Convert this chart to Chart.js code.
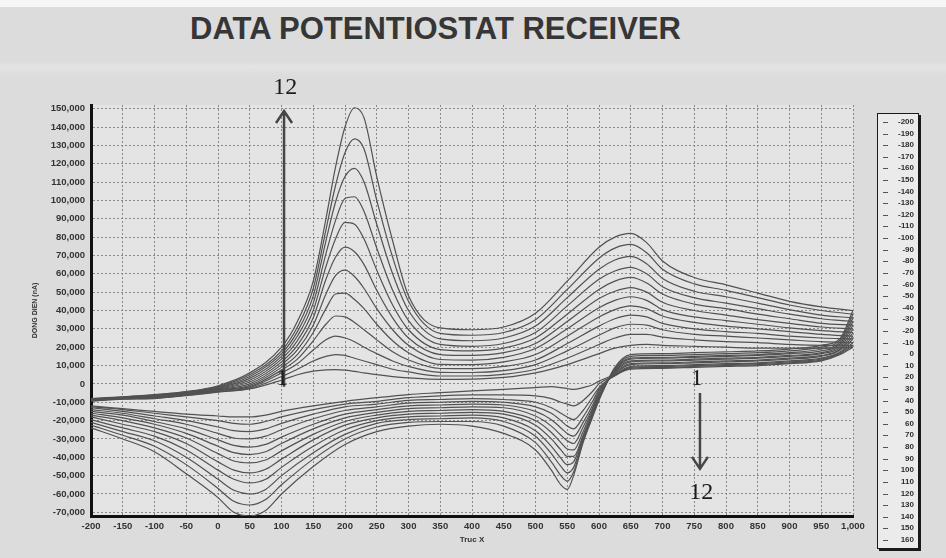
<!DOCTYPE html>
<html>
<head>
<meta charset="utf-8">
<script src="https://cdn.jsdelivr.net/npm/chart.js@4.4.0/dist/chart.umd.min.js"></script>
<style>
  html, body { margin: 0; padding: 0; }
  body {
    width: 946px; height: 558px; position: relative; overflow: hidden;
    background: linear-gradient(#f6f6f6 0, #f6f6f6 7px, #dcdcdc 7px, #dcdcdc 62px, #e4e4e4 66px, #dcdcdc 76px, #dcdcdc 100%);
    font-family: "Liberation Sans", Arial, sans-serif;
  }
  #chart { position: absolute; left: 0; top: 0; }
  #title {
    position: absolute; left: 0; top: 13px; width: 871px; text-align: center;
    font: bold 31px/31px "Liberation Sans", Arial, sans-serif; color: #363636;
  }
  #legend {
    position: absolute; left: 877px; top: 113px; width: 42px; height: 436px;
    background: #ebebeb; border: 1px solid #1a1a1a; box-shadow: 2px 2px 0 #1a1a1a;
    padding-top: 2px; box-sizing: border-box; overflow: hidden;
  }
  #legend div {
    height: 11.62px; font: bold 8px/11.62px "Liberation Sans", Arial, sans-serif;
    color: #2e2e2e; text-align: right; padding-right: 4px; position: relative;
  }
  #legend div span {
    position: absolute; left: 5px; top: 6px; width: 5px; border-top: 1px solid #555;
  }
</style>
</head>
<body>
<div id="title">DATA POTENTIOSTAT RECEIVER</div>
<canvas id="chart" width="946" height="558"></canvas>
<div id="legend"></div>
<script>
// potential (x axis) for the forward and the reverse scan
const fwdX = [-200, -150, -100, -50, 0, 50, 100, 125, 150, 170, 185, 200, 215, 230, 250, 275, 300, 350, 400, 450, 500, 550, 600, 625, 650, 675, 700, 750, 800, 850, 900, 950, 1000];
const revX = [-200, -150, -100, -50, 0, 25, 50, 75, 100, 150, 200, 250, 300, 350, 400, 450, 500, 525, 540, 550, 560, 575, 590, 600, 625, 650, 700, 750, 800, 850, 900, 950, 980, 1000];

// current, thousands of nA, forward scan (cycle 1 .. 12)
const fwd1 = [-9.3, -8.3, -8, -6.4, -4.5, -2.8, 2, 5, 7, 7.6, 7.8, 7.5, 6.8, 6, 5, 4, 3.3, 2.5, 2.6, 3.5, 6, 10.5, 16.5, 19.5, 21, 21.5, 21, 20.5, 20, 19.5, 19.5, 19.5, 20];
const fwd2 = [-9.2, -8.2, -7.8, -6.2, -4.2, -2.5, 4, 8, 12.5, 15, 16, 15.5, 14, 12.5, 10.5, 8, 6.5, 4.3, 4.3, 5.2, 8, 14, 21.5, 25, 27, 27, 25.5, 24, 23, 22.5, 21.5, 21, 21];
const fwd3 = [-9.1, -8.1, -7.6, -6, -3.9, -2, 6, 11, 18.5, 24, 26, 25, 23, 20, 16.5, 12.5, 9.5, 6.3, 6.2, 7.2, 10.5, 18, 26.5, 30.5, 32.5, 32, 29.5, 27, 26, 25, 24, 23, 22.5];
const fwd4 = [-9, -8, -7.4, -5.8, -3.6, -1.5, 7.5, 13.5, 23.5, 32.5, 37, 36.5, 33.5, 29.5, 24, 17.5, 13, 8.4, 8.3, 9.5, 13, 22, 31.5, 35.5, 37.5, 36.5, 33, 30, 28.5, 27.5, 26, 25, 24.5];
const fwd5 = [-8.9, -7.9, -7.2, -5.6, -3.3, -0.8, 9, 16, 28, 41, 49, 49.5, 46, 41, 32.5, 23.5, 17, 10.6, 10.5, 12, 16, 26, 36.5, 40.5, 42.5, 41, 37, 33.5, 31.5, 30, 28.5, 27, 26];
const fwd6 = [-8.8, -7.8, -7, -5.4, -3, 0, 10.5, 18.5, 32, 49, 59, 62, 58.5, 52, 41, 29.5, 21, 13.3, 13, 14.5, 19.3, 30, 41.5, 45.5, 47.5, 45.5, 40.5, 36.5, 34.5, 32.5, 30.5, 29, 28];
const fwd7 = [-8.7, -7.7, -6.8, -5.2, -2.7, 1, 12, 21, 36, 57, 69, 74.5, 72, 65, 51, 36, 25, 16, 15.5, 17, 22, 34, 46.5, 50.5, 52.5, 50, 44.5, 40, 37.5, 35, 33, 31, 30];
const fwd8 = [-8.6, -7.6, -6.6, -5, -2.4, 2, 13.5, 23.5, 40, 64, 79, 88, 87, 79, 62, 43, 29.5, 18.7, 18, 19.5, 25, 38, 51.5, 56, 58, 55, 49, 43.5, 41, 38, 35.5, 33, 32];
const fwd9 = [-8.5, -7.5, -6.4, -4.8, -2.1, 3, 15, 26, 44, 71, 89, 101, 102, 94, 74, 51, 34.5, 21.5, 20.5, 22, 28, 42.5, 57, 61.5, 63.5, 60, 53, 47, 44, 41, 38, 35.5, 34];
const fwd10 = [-8.4, -7.4, -6.2, -4.6, -1.8, 4, 16.5, 28.5, 48, 78, 99, 113, 117.5, 110, 87, 60, 40, 24.5, 23.5, 25, 31.5, 47, 62.5, 67.5, 69.5, 65.5, 57.5, 50.5, 47.5, 44, 40.5, 37.5, 36];
const fwd11 = [-8.2, -7.2, -6, -4.4, -1.4, 5, 18, 31, 52, 84, 108, 126, 133.5, 128, 100, 69, 45, 27.5, 26.5, 28, 35, 51.5, 68.5, 74, 76, 71.5, 62.5, 54.5, 51, 47, 43, 40, 38];
const fwd12 = [-8, -7, -5.8, -4.2, -1, 6, 20, 34, 56, 90, 118, 140, 150.5, 145, 113, 78, 48, 30.5, 29.5, 31, 38.5, 56, 74.5, 80, 82, 77, 67, 58, 54, 49.5, 45, 42, 40];

// current, thousands of nA, reverse scan (cycle 1 .. 12)
const rev1 = [-12, -13.5, -15, -16.5, -17.5, -18, -18, -17, -15, -12, -9.5, -7.5, -5.8, -4.8, -3.8, -3, -2, -1.5, -2, -2.5, -3, -2, -0.5, 1.5, 5, 8, 8.5, 9, 9.5, 10, 11, 12.5, 16, 20];
const rev2 = [-12.5, -14, -16, -18, -20, -21.5, -22, -20.5, -18, -14, -11, -9.5, -7.5, -6.5, -6, -6, -6.5, -8, -10, -11, -12, -9, -4, 0, 4.5, 8.5, 9, 9.5, 10, 10.5, 11.5, 13, 16.5, 21];
const rev3 = [-13, -15, -17.5, -20, -23.5, -25.5, -26, -24.5, -21.5, -16.5, -12.5, -11, -9, -8.5, -8, -8.5, -10, -13, -16, -18, -19.5, -14.5, -7, -2, 4.5, 9, 9.5, 10, 10.5, 11, 12, 13.5, 17, 22.5];
const rev4 = [-14, -16, -19, -22, -27, -29.5, -30, -28.5, -25, -19, -14.5, -12.5, -10.5, -10, -9.5, -10, -12.5, -16, -20, -23, -24.5, -18, -9.5, -3, 5, 9.5, 10, 10.5, 11, 11.5, 12.5, 14, 17.5, 24.5];
const rev5 = [-15, -17, -20.5, -24.5, -30.5, -33.5, -34.5, -33, -29, -22, -16.5, -14, -12, -11.5, -11, -11.5, -15, -19.5, -24, -27, -28.5, -21, -11.5, -4, 5.5, 10.5, 11, 11.5, 12, 12.5, 13.5, 15, 18.5, 26];
const rev6 = [-16, -18.5, -22, -27, -34, -37.5, -38.5, -37, -32.5, -24.5, -18.5, -15.5, -13.5, -13, -12.5, -13, -17.5, -23, -28, -31, -32.5, -23.5, -13, -5, 6, 11, 11.5, 12, 12.5, 13, 14, 15.5, 19, 28];
const rev7 = [-17, -20, -24, -29.5, -38, -42, -43, -41.5, -36.5, -27.5, -20.5, -17, -15, -14.5, -14, -15, -20, -26.5, -32, -35.5, -36, -26, -14, -6, 6.5, 12, 12.5, 13, 13.5, 14, 15, 16.5, 20, 30];
const rev8 = [-18, -22, -26, -32.5, -42.5, -47, -48.5, -46.5, -41, -30.5, -22.5, -18.5, -16.5, -16, -15.5, -16.5, -22.5, -30, -36, -39.5, -39.5, -28, -15, -7, 7, 12.5, 13, 13.5, 14, 14.5, 15.5, 17, 21, 32];
const rev9 = [-19.5, -24, -28.5, -36, -47, -52, -54, -52, -45.5, -34, -25, -20, -18, -17.5, -17, -18.5, -25.5, -34, -40.5, -44, -42.5, -29, -16, -7.5, 7.5, 13.5, 14, 14.5, 15, 15.5, 16.5, 18, 22, 34];
const rev10 = [-21, -26, -31, -40, -52, -58, -60, -57.5, -50, -37.5, -27.5, -21.5, -19.5, -19, -18.5, -20.5, -28.5, -38, -45, -48.5, -45.5, -30, -16.5, -8, 8, 14, 14.5, 15, 15.5, 16, 17, 19, 23, 36];
const rev11 = [-22.5, -28, -34, -44, -57, -64, -66, -63, -55, -41, -30, -23.5, -21, -20.5, -20.5, -23, -32, -42.5, -50, -53, -48, -31, -17, -8.5, 8.5, 15, 15.5, 16, 16.5, 17, 18, 20, 24, 38];
const rev12 = [-24, -30, -37, -49, -62, -70, -72, -69, -60, -45, -33, -26, -23, -22, -23, -27, -36, -47, -55, -57.5, -50, -32, -18, -9, 9, 16, 16.5, 17, 17.5, 18, 19, 21, 25, 40];

// entries listed in the box on the right
const legendLabels = [-200, -190, -180, -170, -160, -150, -140, -130, -120, -110, -100, -90, -80, -70, -60, -50, -40, -30, -20, -10, 0, 10, 20, 30, 40, 50, 60, 70, 80, 90, 100, 110, 120, 130, 140, 150, 160];

const forward = [fwd1, fwd2, fwd3, fwd4, fwd5, fwd6, fwd7, fwd8, fwd9, fwd10, fwd11, fwd12];
const reverse = [rev1, rev2, rev3, rev4, rev5, rev6, rev7, rev8, rev9, rev10, rev11, rev12];

const lineStyle = {
  borderColor: "#525252",
  borderWidth: 1.2,
  pointRadius: 0,
  fill: false,
  cubicInterpolationMode: "monotone",
};

const datasets = [];
forward.forEach((vals, i) => {
  datasets.push({ label: "Cycle " + (i + 1) + " fwd", data: fwdX.map((x, j) => ({ x: x, y: vals[j] })), ...lineStyle });
  datasets.push({ label: "Cycle " + (i + 1) + " rev", data: revX.map((x, j) => ({ x: x, y: reverse[i][j] })), ...lineStyle });
});

// legend box (plain text list)
const legendBox = document.getElementById("legend");
legendLabels.forEach((v) => {
  const row = document.createElement("div");
  row.innerHTML = "<span></span>" + v;
  legendBox.appendChild(row);
});

// grey plot area
const plotBackground = {
  id: "plotBackground",
  beforeDraw(chart) {
    const { ctx, chartArea: a } = chart;
    ctx.save();
    ctx.fillStyle = "#e4e4e4";
    ctx.fillRect(a.left, a.top, a.right - a.left, a.bottom - a.top);
    ctx.restore();
  },
};

// the two arrows with their "1" -> "12" labels, placed in data units
const arrowNotes = {
  id: "arrowNotes",
  afterDraw(chart) {
    const { ctx } = chart;
    const sx = chart.scales.x, sy = chart.scales.y;
    const arrow = (xv, y0, y1) => {
      const px = sx.getPixelForValue(xv);
      const p0 = sy.getPixelForValue(y0);
      const p1 = sy.getPixelForValue(y1);
      const dir = p1 < p0 ? 1 : -1;
      ctx.save();
      ctx.strokeStyle = "#464646";
      ctx.lineWidth = 2.5;
      ctx.beginPath();
      ctx.moveTo(px, p0);
      ctx.lineTo(px, p1);
      ctx.moveTo(px - 8, p1 + dir * 12);
      ctx.lineTo(px, p1);
      ctx.lineTo(px + 8, p1 + dir * 12);
      ctx.stroke();
      ctx.restore();
    };
    const label = (txt, xv, yv) => {
      ctx.save();
      ctx.font = "24px 'Liberation Serif', 'Times New Roman', serif";
      ctx.fillStyle = "#1c1c1c";
      ctx.textAlign = "center";
      ctx.textBaseline = "middle";
      ctx.fillText(txt, sx.getPixelForValue(xv), sy.getPixelForValue(yv));
      ctx.restore();
    };
    arrow(104, -1.5, 148.7);
    label("12", 106, 161.5);
    label("1", 101, 2.6);
    arrow(759, -4.9, -46.3);
    label("1", 754, 2.8);
    label("12", 761, -59.5);
  },
};

const tickFont = { family: "'Liberation Sans', Arial, sans-serif", size: 9.5, weight: "bold" };

new Chart(document.getElementById("chart"), {
  type: "line",
  data: { datasets: datasets },
  plugins: [plotBackground, arrowNotes],
  options: {
    responsive: false,
    devicePixelRatio: 1,
    animation: false,
    layout: { padding: { left: 0, top: 105, right: 93, bottom: 0 } },
    plugins: { legend: { display: false }, tooltip: { enabled: false } },
    scales: {
      x: {
        type: "linear",
        min: -200,
        max: 1000,
        afterFit: (s) => { s.height = 42; },
        ticks: { stepSize: 50, autoSkip: false, maxRotation: 0, padding: 5, color: "#333", font: tickFont },
        grid: { color: "#8a8a8a", lineWidth: 1, drawTicks: false },
        border: { color: "#111", width: 3, dash: [2, 2] },
        title: { display: true, text: "Truc X", color: "#333", font: { family: "'Liberation Sans', Arial, sans-serif", size: 8, weight: "bold" }, padding: { top: 0, bottom: 13 } },
      },
      y: {
        type: "linear",
        min: -72,
        max: 152,
        afterFit: (s) => { s.width = 91; },
        ticks: {
          stepSize: 10,
          includeBounds: false,
          padding: 6,
          color: "#333",
          font: tickFont,
          callback: (v) => (v * 1000).toLocaleString("en-US"),
        },
        grid: { color: "#8a8a8a", lineWidth: 1, drawTicks: false },
        border: { color: "#111", width: 3, dash: [2, 2] },
        title: { display: true, text: "DONG DIEN (nA)", color: "#333", font: { family: "'Liberation Sans', Arial, sans-serif", size: 7, weight: "bold" }, padding: { top: 31, bottom: 0 } },
      },
    },
  },
});
</script>
</body>
</html>
